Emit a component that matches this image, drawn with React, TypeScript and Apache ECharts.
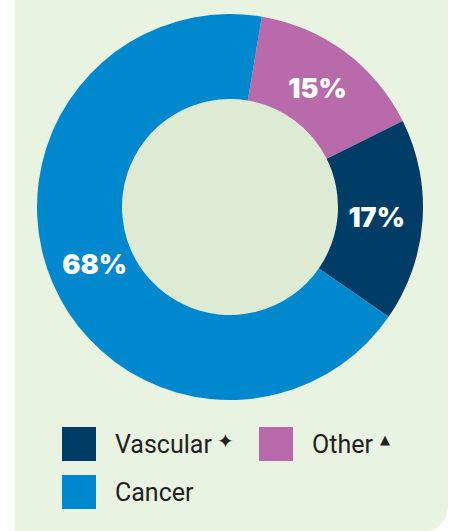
import React, { useEffect, useRef } from "react";
import * as echarts from "echarts";

const categories = ["Other", "Vascular", "Cancer"];
const values = [15, 17, 68];
const colors = ["#b96aaa", "#003d66", "#0088cf"];
const legendOrder = ["Vascular", "Other", "Cancer"];
const legendMarks: Record<string, string> = { Vascular: "✦", Other: "▲", Cancer: "" };

export default function App() {
  const ref = useRef<HTMLDivElement>(null);
  useEffect(() => {
    if (!ref.current) return;
    const chart = echarts.init(ref.current, null, { renderer: "svg" });
    const legendPos: Record<string, [number, number]> = {
      Vascular: [62, 427],
      Other: [259, 427],
      Cancer: [62, 475],
    };
    const legends = legendOrder.map((name) => ({
      show: true,
      data: [name],
      left: legendPos[name][0],
      top: legendPos[name][1],
      itemWidth: 34,
      itemHeight: 34,
      icon: "rect",
      selectedMode: false,
      padding: 0,
      formatter: (n: string) =>
        n === "Vascular"
          ? `{n|${n}}{s|${legendMarks[n]}}`
          : n === "Other"
          ? `{n|${n}}{t|${legendMarks[n]}}`
          : `{n|${n}}`,
      textStyle: {
        rich: {
          n: {
            fontFamily: "Roboto",
            fontSize: 25,
            color: "#231f20",
            padding: [0, 0, 0, 14],
          },
          s: {
            fontFamily: "DejaVu Sans",
            fontSize: 20,
            color: "#231f20",
            padding: [0, 0, 6, 5],
          },
          t: {
            fontFamily: "DejaVu Sans",
            fontSize: 13,
            color: "#231f20",
            padding: [0, 0, 10, 7],
          },
        },
      },
    }));
    chart.setOption({
      animation: false,
      backgroundColor: "#ffffff",
      graphic: [
        {
          type: "rect",
          z: -10,
          shape: { x: 15, y: -40, width: 433, height: 572, r: [0, 0, 26, 0] },
          style: { fill: "#e8f3e2" },
          silent: true,
        },
        {
          type: "circle",
          z: -9,
          shape: { cx: 230, cy: 207, r: 109 },
          style: { fill: "#deebd4" },
          silent: true,
        },
      ],
      legend: legends,
      series: [
        {
          type: "pie",
          center: [230, 207],
          radius: [108, 193],
          startAngle: 80.5,
          clockwise: true,
          silent: true,
          label: { show: false },
          labelLine: { show: false },
          itemStyle: { borderWidth: 0 },
          data: categories.map((c, i) => ({
            name: c,
            value: values[i],
            itemStyle: { color: colors[i] },
          })),
        },
        {
          type: "pie",
          center: [230, 207],
          radius: [95, 193],
          startAngle: 80.5,
          clockwise: true,
          silent: true,
          legendHoverLink: false,
          label: {
            show: true,
            position: "inside",
            formatter: "{c}%",
            color: "#ffffff",
            fontFamily: "Inter",
            fontWeight: 900,
            fontSize: 27,
          },
          labelLine: { show: false },
          itemStyle: { color: "rgba(0,0,0,0)", borderWidth: 0 },
          data: categories.map((c, i) => ({
            name: c,
            value: values[i],
          })),
        },
      ],
    });
    return () => chart.dispose();
  }, []);
  return (
    <div
      ref={ref}
      style={{ position: "fixed", left: 0, top: 0, width: 454, height: 531 }}
    />
  );
}
